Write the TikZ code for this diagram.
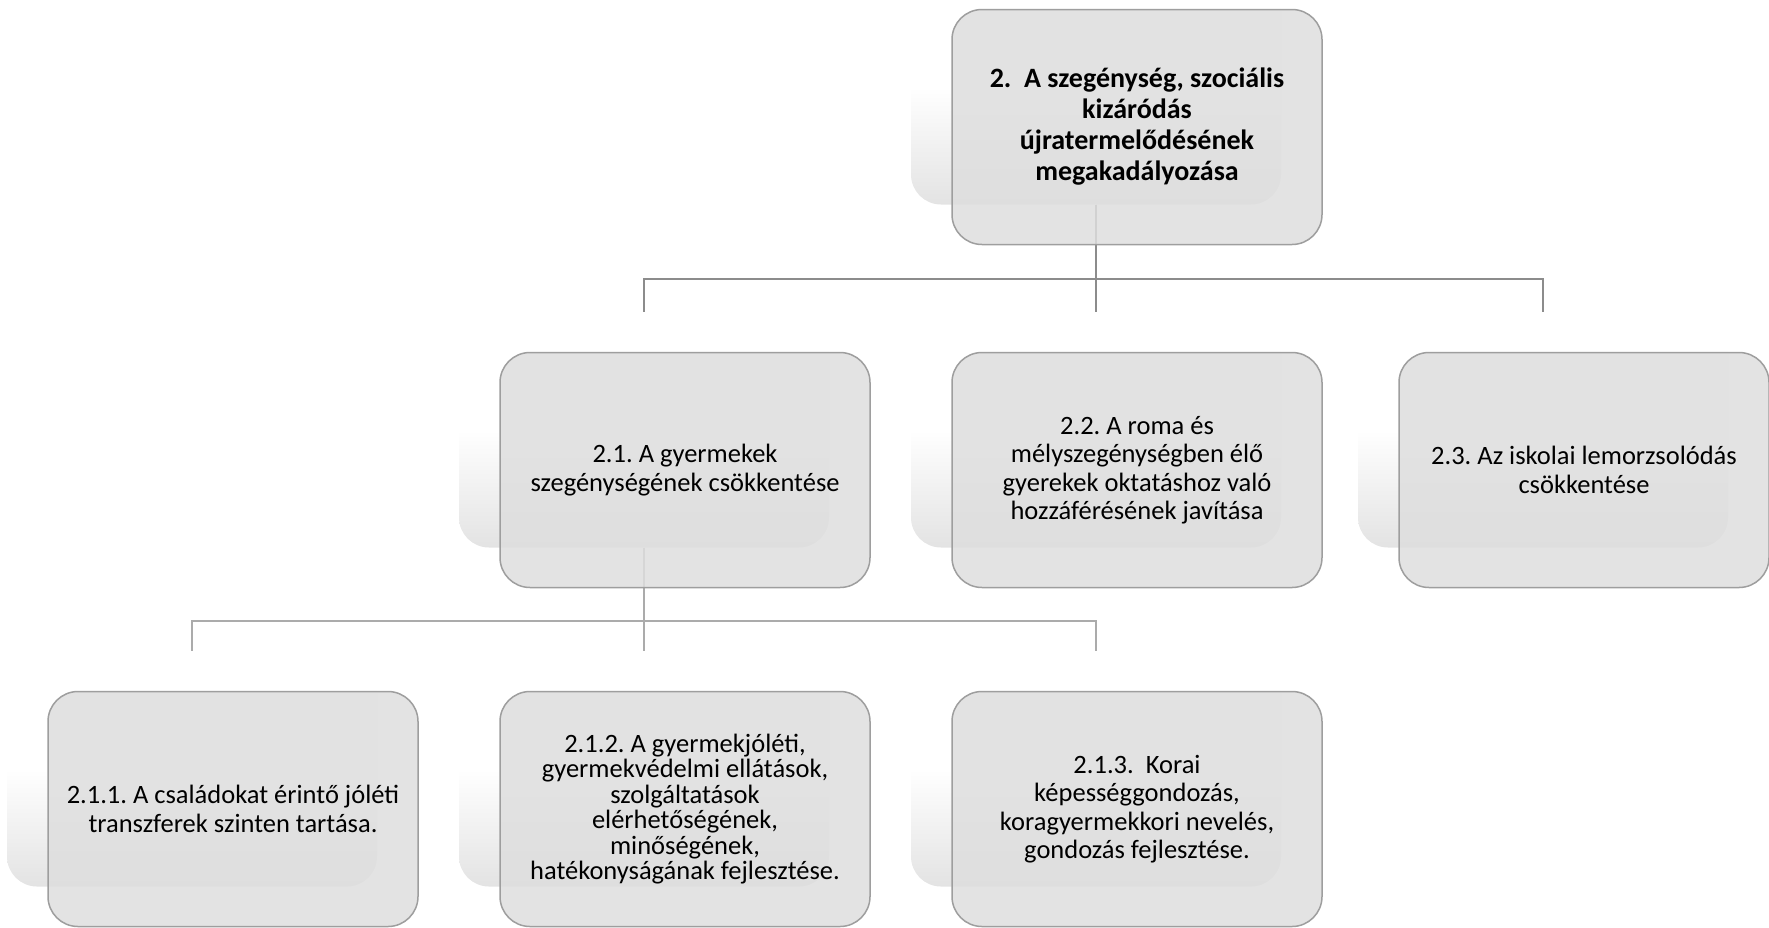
\documentclass[tikz,border=0pt]{standalone}
\usepackage{fontspec}
\setmainfont{Carlito}
\frenchspacing
\usetikzlibrary{calc,backgrounds}

\tikzset{
  box/.style={draw=black!38, line width=1.5pt, rounded corners=30pt,
    fill=black!13, fill opacity=0.85, text opacity=1,
    minimum width=370pt, minimum height=235pt, align=center,
    font=\fontsize{26.5}{28.5}\selectfont},
  mainbox/.style={box, font=\fontsize{28}{31}\selectfont\bfseries},
  tightbox/.style={box, font=\fontsize{26.5}{25.5}\selectfont},
  shadowbox/.style={rounded corners=30pt, minimum width=370pt, minimum height=235pt,
    top color=white, bottom color=black!11, middle color=white},
  conn/.style={draw=black!45, line width=2pt},
  subconn/.style={draw=black!33, line width=2pt}
}

\begin{document}
\begin{tikzpicture}[x=1pt, y=-1pt]
    \useasboundingbox (0,0) rectangle (1769,927);
    % Fo cel
    \node[mainbox] (main) at (1137,127) {2.\ \ A szegénység, szociális\\ kizáródás\\ újratermelődésének\\ megakadályozása};
    % Masodik szint
    \node[box] (b21) at (685,470) {2.1. A gyermekek\\ szegénységének csökkentése};
    \node[box] (b22) at (1137,470) {2.2. A roma és\\ mélyszegénységben élő\\ gyerekek oktatáshoz való\\ hozzáférésének javítása};
    \node[box] (b23) at (1584,470) {2.3. Az iskolai lemorzsolódás\\ csökkentése};
    % Harmadik szint
    \node[box] (b211) at (233,809) {2.1.1. A családokat érintő jóléti\\ transzferek szinten tartása.};
    \node[tightbox] (b212) at (685,809) {2.1.2. A gyermekjóléti,\\ gyermekvédelmi ellátások,\\ szolgáltatások\\ elérhetőségének,\\ minőségének,\\ hatékonyságának fejlesztése.};
    \node[box] (b213) at (1137,809) {2.1.3.\ \ Korai\\ képességgondozás,\\ koragyermekkori nevelés,\\ gondozás fejlesztése.};
    \begin{scope}[on background layer]
        % Arnyekok
        \foreach \n in {main,b21,b22,b23,b211,b212,b213}
            \node[shadowbox] (\n-sh) at ($(\n)+(-41,-40)$) {};
        % Osszekotok
        \draw[conn] (main-sh.south) -- ++(0,74) -| (b21-sh.north);
        \draw[conn] (main-sh.south) -- ++(0,74) -| (b23-sh.north);
        \draw[conn] (main-sh.south) -- (b22-sh.north);
        \draw[subconn] (b21-sh.south) -- ++(0,73) -| (b211-sh.north);
        \draw[subconn] (b21-sh.south) -- ++(0,73) -| (b213-sh.north);
        \draw[subconn] (b21-sh.south) -- (b212-sh.north);
    \end{scope}
\end{tikzpicture}
\end{document}
